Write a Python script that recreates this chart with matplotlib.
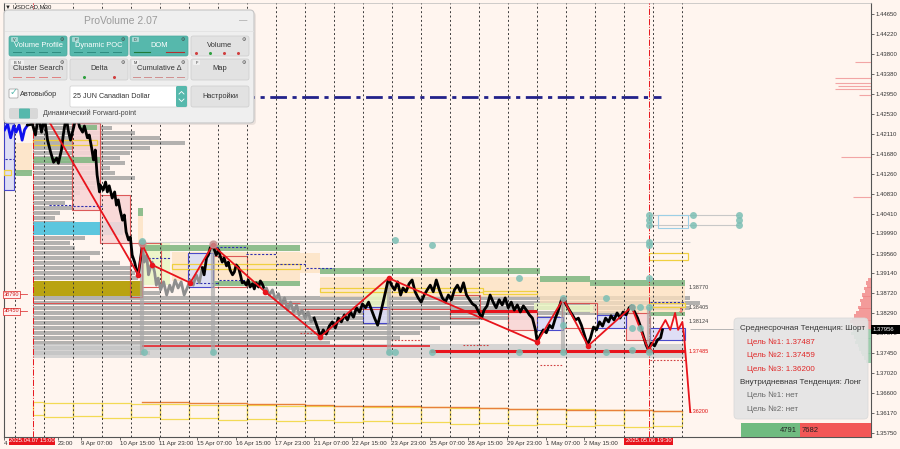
import matplotlib
matplotlib.use("Agg")
import matplotlib.pyplot as plt
from matplotlib.patches import Rectangle, FancyBboxPatch

plt.rcParams["font.family"] = ["Liberation Sans", "DejaVu Sans"]

# ---------------------------------------------------------------- data
x_tick_bars = [0, 89, 128, 192, 256, 320, 384, 448, 512, 576, 640, 704, 768, 832, 896, 960]
x_tick_labels = ["4", "23:00", "9 Apr 07:00", "10 Apr 15:00", "11 Apr 23:00",
                 "15 Apr 07:00", "16 Apr 15:00", "17 Apr 23:00", "21 Apr 07:00", "22 Apr 15:00",
                 "23 Apr 23:00", "25 Apr 07:00", "28 Apr 15:00", "29 Apr 23:00", "1 May 07:00",
                 "2 May 15:00"]
price_ticks = [1.44650, 1.44220, 1.43800, 1.43380, 1.42950, 1.42530, 1.42110, 1.41680,
               1.41260, 1.40830, 1.40410, 1.39990, 1.39560, 1.39140, 1.38720, 1.38290,
               1.37870, 1.37450, 1.37020, 1.36600, 1.36170, 1.35750]
day_sep = [18, 66, 114, 162, 210, 258, 306, 354, 402, 450, 498, 546, 594, 642, 690, 738,
           786, 834, 882, 930, 978, 1026, 1074, 1122]
cross_bars = [48, 1066]
current_price = 1.37956

pathA_bar = [1, 6, 11, 16, 20, 25, 30, 34, 39]
pathA_price = [1.4219, 1.4231, 1.4202, 1.4227, 1.4214, 1.4229, 1.4197, 1.4219, 1.4229]
pathB_bar = [39, 47, 52, 57, 62, 67, 72, 77, 82, 87, 90, 95, 98, 103, 106, 110, 115, 120, 125,
             130, 133, 138, 141, 145, 148, 151, 154, 158, 159, 164, 168, 171, 174, 179, 183,
             186, 189, 192, 196, 199, 202, 206, 209, 212, 216, 219, 222, 226, 229]
pathB_price = [1.4229, 1.4231, 1.4208, 1.4250, 1.4214, 1.4245, 1.4197, 1.4172, 1.4150, 1.4159,
               1.4148, 1.4176, 1.4208, 1.4248, 1.4219, 1.4197, 1.4223, 1.4252, 1.4225, 1.4214,
               1.4227, 1.4202, 1.4208, 1.4180, 1.4155, 1.4176, 1.4123, 1.4087, 1.4102, 1.4091,
               1.4108, 1.4087, 1.4100, 1.4074, 1.4087, 1.4059, 1.4070, 1.4049, 1.4027, 1.4038,
               1.4002, 1.3985, 1.3991, 1.3953, 1.3938, 1.3921, 1.3911, 1.3947, 1.3974]
pathC_bar = [229, 232, 236, 239, 242, 245, 249, 252, 255, 259, 264, 269, 274, 278, 283, 288,
             293, 298, 303, 308, 313, 318, 323, 328]
pathC_price = [1.3974, 1.3938, 1.3953, 1.3911, 1.3926, 1.3938, 1.3917, 1.3889, 1.3904, 1.3879,
               1.3896, 1.3868, 1.3889, 1.3875, 1.3900, 1.3883, 1.3896, 1.3868, 1.3883, 1.3900,
               1.3889, 1.3911, 1.3894, 1.3926]
pathD_bar = [328, 331, 335, 338, 341, 345, 348, 351, 355, 358, 361, 364, 368, 371, 374, 378,
             381, 384, 388, 391, 394, 397, 401, 404, 407, 411, 414, 417, 421, 424, 427, 431]
pathD_price = [1.3926, 1.3911, 1.3947, 1.3953, 1.3968, 1.3974, 1.3964, 1.3953, 1.3964, 1.3949,
               1.3938, 1.3947, 1.3930, 1.3938, 1.3921, 1.3911, 1.3917, 1.3932, 1.3926, 1.3911,
               1.3894, 1.3896, 1.3889, 1.3900, 1.3885, 1.3892, 1.3881, 1.3894, 1.3885, 1.3898,
               1.3892, 1.3879]
pathE_bar = [431, 434, 439, 444, 449, 454, 459, 464, 469, 474, 479, 484, 488, 493, 498, 503,
             508, 513]
pathE_price = [1.3879, 1.3883, 1.3868, 1.3879, 1.3858, 1.3871, 1.3847, 1.3862, 1.3836, 1.3853,
               1.3832, 1.3847, 1.3826, 1.3836, 1.3819, 1.3832, 1.3811, 1.3819]
pathF_bar = [513, 520, 523, 528, 533, 538, 543, 548, 553, 558, 563, 568, 573, 578, 583, 588,
             593, 598, 603, 608, 613, 618, 621, 626, 631, 636, 641, 646, 651, 656, 660, 665,
             670, 675, 680, 685, 690, 695, 700, 705, 710, 715, 720, 725, 730, 735, 740, 745,
             750, 755, 760, 765, 770, 775, 780, 785, 790, 794, 799, 804, 809, 814, 819, 824,
             829, 834, 839, 844, 849, 854, 859, 864, 869, 874, 879, 882, 887, 892, 897, 902,
             907, 912, 917, 922, 925, 930, 935, 940, 945, 950, 955, 960, 965, 970, 975, 980,
             985, 990, 995, 1000, 1004, 1009, 1014, 1019, 1024, 1029, 1034, 1038, 1043, 1048,
             1052, 1057, 1062, 1066, 1071, 1076, 1081, 1086, 1089]
pathF_price = [1.3819, 1.3794, 1.3779, 1.3794, 1.3785, 1.3802, 1.3811, 1.3798, 1.3819, 1.3811,
               1.3826, 1.3815, 1.3832, 1.3821, 1.3841, 1.3832, 1.3849, 1.3841, 1.3853, 1.3836,
               1.3819, 1.3804, 1.3819, 1.3847, 1.3875, 1.3904, 1.3889, 1.3879, 1.3896, 1.3868,
               1.3883, 1.3875, 1.3892, 1.3900, 1.3875, 1.3862, 1.3853, 1.3868, 1.3879, 1.3889,
               1.3875, 1.3900, 1.3879, 1.3862, 1.3853, 1.3868, 1.3858, 1.3879, 1.3889, 1.3875,
               1.3894, 1.3868, 1.3858, 1.3849, 1.3845, 1.3832, 1.3819, 1.3836, 1.3845, 1.3868,
               1.3853, 1.3841, 1.3858, 1.3847, 1.3862, 1.3841, 1.3853, 1.3836, 1.3847, 1.3832,
               1.3845, 1.3836, 1.3826, 1.3819, 1.3794, 1.3768, 1.3783, 1.3794, 1.3788, 1.3804,
               1.3798, 1.3819, 1.3836, 1.3858, 1.3860, 1.3847, 1.3836, 1.3826, 1.3815, 1.3819,
               1.3804, 1.3783, 1.3762, 1.3777, 1.3800, 1.3794, 1.3811, 1.3802, 1.3819, 1.3811,
               1.3824, 1.3815, 1.3830, 1.3819, 1.3832, 1.3826, 1.3841, 1.3845, 1.3832, 1.3819,
               1.3804, 1.3783, 1.3762, 1.3751, 1.3766, 1.3760, 1.3773, 1.3777, 1.3794]

zz_bar = [54, 222, 229, 245, 308, 345, 432, 523, 636, 882, 925, 966, 1038, 1066]
zz_price = [1.4282, 1.3911, 1.3974, 1.3932, 1.3894, 1.3974, 1.3875, 1.3779, 1.3904, 1.3768,
            1.3860, 1.3760, 1.3843, 1.3751]
fc_bar = [1066, 1094, 1102, 1110, 1115, 1122, 1125, 1135]
fc_price = [1.3751, 1.3815, 1.3794, 1.3830, 1.3794, 1.3811, 1.3779, 1.3620]

vp_price = [1.42334, 1.42228, 1.42122, 1.42016, 1.41910, 1.41804, 1.41697, 1.41591, 1.41485,
            1.41379, 1.41273, 1.41166, 1.41060, 1.40954, 1.40848, 1.40742, 1.40635, 1.40529,
            1.40423, 1.40317, 1.40211, 1.40104, 1.39998, 1.39892, 1.39786, 1.39680, 1.39573,
            1.39467, 1.39361, 1.39255, 1.39149, 1.39042, 1.38936, 1.38830, 1.38724, 1.38618,
            1.38511, 1.38405, 1.38299, 1.38193, 1.38087, 1.37980, 1.37874, 1.37768, 1.37662,
            1.37556, 1.37449]
vp_len = [110, 130, 168, 210, 251, 193, 160, 144, 152, 127, 135, 168, 110, 102, 77, 69, 53, 94,
          44, 36, 69, 110, 119, 86, 61, 69, 110, 94, 144, 160, 168, 173, 180, 180, 210, 1086,
          1103, 1086, 1003, 871, 739, 673, 640, 607, 491, 276, 193]
vp_start = 48

rp_price = [1.39000, 1.38936, 1.38872, 1.38809, 1.38745, 1.38681, 1.38618, 1.38554, 1.38490,
            1.38426, 1.38363, 1.38299, 1.38235, 1.38171, 1.38108, 1.38044, 1.37980]
rp_len = [5, 8, 7, 12, 10, 15, 13, 18, 17, 21, 20, 25, 28, 31, 35, 30, 20]
gp_price = [1.37917, 1.37853, 1.37789, 1.37726, 1.37662, 1.37598, 1.37534, 1.37470, 1.37407,
            1.37343, 1.37279]
gp_len = [30, 33, 28, 25, 26, 21, 20, 17, 15, 12, 8]
rl_price = [1.43630, 1.43290, 1.43184, 1.43120, 1.43057, 1.42929, 1.41612, 1.40762]
rl_len = [26, 60, 60, 55, 60, 20, 50, 30]

green_b0 = [229, 523, 887, 970, 48, 19, 126, 222, 1066, 346]
green_b1 = [490, 887, 970, 1127, 159, 47, 154, 230, 1127, 490]
green_lo = [1.39613, 1.39128, 1.38957, 1.38872, 1.41485, 1.41209, 1.42186, 1.40359, 1.38235, 1.38872]
green_hi = [1.39743, 1.39255, 1.39085, 1.39000, 1.41612, 1.41336, 1.42292, 1.40529, 1.38320, 1.38979]

peach_b0 = [19, 222, 278, 490, 523, 887, 970]
peach_b1 = [47, 230, 490, 523, 887, 970, 1127]
peach_lo = [1.41294, 1.39743, 1.38979, 1.39149, 1.38639, 1.38511, 1.38299]
peach_hi = [1.41910, 1.40359, 1.39595, 1.39573, 1.39064, 1.38957, 1.38872]

lgreen_b0 = [230, 308, 594, 876, 925]
lgreen_b1 = [275, 346, 636, 925, 975]
lgreen_lo = [1.38894, 1.38851, 1.38426, 1.38363, 1.38320]
lgreen_hi = [1.39786, 1.39573, 1.38788, 1.38511, 1.38469]

red_b0 = [113, 159, 209, 229, 346, 738, 834, 923, 1028]
red_b1 = [159, 209, 229, 259, 402, 788, 882, 981, 1069]
red_lo = [1.40487, 1.39786, 1.38639, 1.38851, 1.38851, 1.38193, 1.37938, 1.37980, 1.37726]
red_hi = [1.42334, 1.40805, 1.39786, 1.39786, 1.39510, 1.38681, 1.38320, 1.38511, 1.38299]
red_fill = [True, True, False, False, False, False, True, False, True]

blue_b0 = [0, 305, 594, 882, 981, 1069]
blue_b1 = [17, 346, 636, 925, 1028, 1127]
blue_lo = [1.40911, 1.38851, 1.38087, 1.37938, 1.37980, 1.37726]
blue_hi = [1.42334, 1.39573, 1.38426, 1.38214, 1.38257, 1.37980]

yel_b0 = [278, 523, 793, 48, 0, 1067, 1067]
yel_b1 = [490, 793, 882, 154, 11, 1132, 1127]
yel_lo = [1.39234, 1.38745, 1.38703, 1.41867, 1.41230, 1.39425, 1.38426]
yel_hi = [1.39340, 1.38830, 1.38766, 1.41973, 1.41336, 1.39573, 1.38511]

poc_b0 = [2, 75, 114, 231, 350, 305, 355, 400, 450, 500, 1069]
poc_b1 = [16, 114, 162, 275, 400, 355, 400, 450, 500, 546, 1127]
poc_price = [1.41570, 1.40593, 1.40572, 1.39467, 1.39700, 1.38936, 1.39004, 1.39560, 1.39340,
             1.39255, 1.38532]

rdot_b0 = [490, 640, 887, 1069, 760]
rdot_b1 = [535, 690, 925, 1127, 800]
rdot_price = [1.37880, 1.37726, 1.37194, 1.37300, 1.37620]

box_edges = [48, 66, 114, 162, 210, 258, 306, 354, 402, 450, 498, 546, 594, 642, 690, 738,
             786, 834, 882, 930, 978, 1026, 1074, 1122]
box_top = [1.36409, 1.36387, 1.36387, 1.36387, 1.36366, 1.36366, 1.36345, 1.36345, 1.36345,
           1.36324, 1.36324, 1.36324, 1.36302, 1.36302, 1.36302, 1.36281, 1.36281, 1.36260,
           1.36260, 1.36260, 1.36239, 1.36239, 1.36217]
box_low = [1.36133, 1.36090, 1.36112, 1.36069, 1.36090, 1.36048, 1.36069, 1.36027, 1.36048,
           1.36006, 1.36027, 1.35985, 1.36006, 1.35963, 1.35985, 1.35942, 1.35963, 1.35921,
           1.35942, 1.35900, 1.35921, 1.35879, 1.35900]
orange_edges = [229, 258, 306, 354, 402, 450, 498, 546, 594, 642, 690, 738, 786, 834, 882,
                930, 978, 1026, 1074, 1122]
orange_price = [1.36398, 1.36398, 1.36377, 1.36377, 1.36366, 1.36356, 1.36345, 1.36334,
                1.36324, 1.36313, 1.36302, 1.36292, 1.36281, 1.36270, 1.36260, 1.36249,
                1.36239, 1.36228, 1.36217]

teal_bar = [229, 231, 345, 647, 708, 636, 647, 708, 851, 851, 925, 925, 925, 995, 995, 1039,
            1052, 1039, 1052, 1039, 1066, 1066, 1067, 1067, 1067, 1140, 1140, 1215, 1215,
            1215, 1067, 1067, 1067]
teal_price = [1.39828, 1.37470, 1.37470, 1.39850, 1.39743, 1.37470, 1.37470, 1.37470, 1.39042,
              1.37470, 1.38618, 1.38044, 1.37470, 1.38618, 1.37470, 1.38426, 1.38426, 1.37980,
              1.37980, 1.37513, 1.37470, 1.39743, 1.40381, 1.40274, 1.40168, 1.40381, 1.40168,
              1.40381, 1.40274, 1.40168, 1.39042, 1.38426, 1.39807]
stem_bar = [229, 345, 636, 925, 1066]
stem_top = [1.3979, 1.3974, 1.3904, 1.3860, 1.3843]

level_labels = ["1.38770", "1.38405", "1.38124", "1.37485", "1.36200"]
level_values = [1.38830, 1.38426, 1.38124, 1.37485, 1.36200]
level_colors = ["#404040", "#404040", "#404040", "#e01010", "#e01010"]

vol_buy, vol_sell = "4791", "7682"

# ---------------------------------------------------------------- figure
BG = "#fff5ef"
fig = plt.figure(figsize=(9.0, 4.49), dpi=100)
fig.patch.set_facecolor(BG)
ax = fig.add_axes([4 / 900, 12 / 449, 867 / 900, 434 / 449])
ax.set_facecolor(BG)
ax.set_xlim(0, 1434)
ax.set_ylim(1.35665, 1.44883)

RED = "#e8141c"
TEAL = "#56b8ac"


def rects(b0, b1, lo, hi, **kw):
    for a, b, c, d in zip(b0, b1, lo, hi):
        ax.add_patch(Rectangle((a, c), b - a, d - c, **kw))


# volume profile
ax.barh(vp_price, vp_len, left=vp_start, height=0.00098, color="#a0a0a0", alpha=0.8,
        lw=0, zorder=2)
ax.add_patch(Rectangle((48, 1.39956), 148, 0.00276, color="#5cc6de", lw=0, zorder=2.5))
ax.add_patch(Rectangle((48, 1.38660), 181, 0.00319, color="#b9a312", lw=0, zorder=2.5))
ax.add_patch(Rectangle((48, 1.37343), 1079, 0.00298, color="#cccccc", alpha=0.8, lw=0,
                       zorder=2.2))

# boxes / bands
rects(peach_b0, peach_b1, peach_lo, peach_hi, fc="#fde2c0", ec="none", alpha=0.75, zorder=2.6)
rects(lgreen_b0, lgreen_b1, lgreen_lo, lgreen_hi, fc="#eaf6c4", ec="none", alpha=0.85, zorder=2.7)
for a, b, c, d, f in zip(red_b0, red_b1, red_lo, red_hi, red_fill):
    ax.add_patch(Rectangle((a, c), b - a, d - c, fc="#f9d6d6" if f else "none",
                           ec="#d94a4a", lw=0.8, alpha=0.9, zorder=2.8))
rects(blue_b0, blue_b1, blue_lo, blue_hi, fc="#dcdcf6", ec="#3838c8", lw=0.8, alpha=0.9,
      zorder=2.8)
rects(yel_b0, yel_b1, yel_lo, yel_hi, fc="none", ec="#f0d040", lw=0.9, zorder=3)
rects(green_b0, green_b1, green_lo, green_hi, fc="#84b884", ec="none", alpha=0.9, zorder=3)
ax.add_patch(Rectangle((1082, 1.40104), 50, 0.00277, fc="none", ec="#9ccfe6", lw=0.8, zorder=3))

# horizontal levels
ax.hlines(1.42887, 229, 1086, colors="#22228a", linestyles=(0, (6, 2, 1.5, 2)), lw=2.0, zorder=3)
ax.hlines(1.39807, 229, 1135, colors="#d2d2d2", lw=0.8, zorder=2.9)
ax.hlines([1.40381, 1.40168], 1066, 1215, colors="#c8c8c8", lw=0.8, zorder=2.9)
ax.hlines(current_price, 1135, 1215, colors="#b5b5b5", lw=0.7, zorder=2.9)
ax.hlines(1.38511, 48, 490, colors="#e05050", lw=0.7, zorder=3)
ax.hlines(1.38380, 490, 738, colors="#e05050", lw=0.8, zorder=3)
ax.hlines(1.38340, 738, 882, colors=RED, lw=2.2, zorder=3)
ax.hlines(1.37598, 229, 705, colors=RED, lw=1.1, zorder=3.2)
ax.hlines(1.37487, 705, 1127, colors=RED, lw=2.2, zorder=3.2)
for a, b, p in zip(poc_b0, poc_b1, poc_price):
    ax.hlines(p, a, b, colors="#3030b0", linestyles=(0, (2, 1.5)), lw=0.8, zorder=3.1)
for a, b, p in zip(rdot_b0, rdot_b1, rdot_price):
    ax.hlines(p, a, b, colors="#d04040", linestyles=(0, (1.5, 1.5)), lw=0.8, zorder=3.1)

# bottom daily boxes
for i in range(len(box_top)):
    a, b = box_edges[i], box_edges[i + 1]
    ax.add_patch(Rectangle((a, box_low[i]), b - a, box_top[i] - box_low[i], fc="none",
                           ec="#f3da55", lw=0.9, zorder=3))
ax.step(orange_edges, orange_price + [orange_price[-1]], where="post", color="#e8803a",
        lw=1.0, zorder=3.2)

# grid / separators
ax.vlines(day_sep, 1.35665, 1.44883, colors="#3a3a3a", linestyles=(0, (2, 2.5)), lw=0.7,
          zorder=3.5)
ax.vlines(cross_bars, 1.35665, 1.44883, colors=RED, linestyles="-.", lw=0.7, zorder=3.5)

# grey stems
ax.vlines(stem_bar, 1.3741, stem_top, colors="#a8a8a8", lw=3, alpha=0.7, zorder=3.6)

# price
ax.plot(pathA_bar, pathA_price, color="#1010ee", lw=2.0, zorder=5)
for xs, ys, c in [(pathB_bar, pathB_price, "#000000"), (pathC_bar, pathC_price, "#8e8e8e"),
                  (pathD_bar, pathD_price, "#000000"), (pathE_bar, pathE_price, "#8e8e8e"),
                  (pathF_bar, pathF_price, "#000000")]:
    ax.plot(xs, ys, color=c, lw=2.0, zorder=5)

# zigzag
ax.plot(zz_bar, zz_price, color=RED, lw=1.3, zorder=6)
ax.plot(fc_bar, fc_price, color=RED, lw=1.3, zorder=6)
ax.plot(zz_bar[1:], zz_price[1:], "o", color=RED, ms=3, zorder=6.5)
ax.plot([229, 345], [1.3979, 1.3976], "o", color="#c49090", ms=5, alpha=0.8, zorder=6.6)
ax.text(1119, 1.3833, "⇩", color=RED, fontsize=5, ha="center", va="center", zorder=7)

# teal circles
ax.plot(teal_bar, teal_price, "o", color="#7cbfb5", ms=5, alpha=0.85, zorder=6.8, mec="none")

# right-side profile
ax.barh(rp_price, rp_len, left=[1434 - v for v in rp_len], height=0.00064, color="#f08585",
        alpha=0.8, lw=0, zorder=4)
ax.barh(gp_price, gp_len, left=[1434 - v for v in gp_len], height=0.00064, color="#8cc8a2",
        alpha=0.85, lw=0, zorder=4)
for p, l in zip(rl_price, rl_len):
    ax.hlines(p, 1434 - l, 1434, colors="#f2a5a5", lw=0.8, zorder=4)

# level labels
for t, v, c in zip(level_labels, level_values, level_colors):
    ax.text(1132, v, t, fontsize=4, color=c, va="center", ha="left", zorder=7)

# axes styling
ax.yaxis.tick_right()
ax.set_yticks(price_ticks)
ax.set_yticklabels([f"{v:.5f}" for v in price_ticks], fontsize=4.3, color="#222222")
ax.set_xticks(x_tick_bars)
ax.set_xticklabels(x_tick_labels, fontsize=4.4, color="#222222")
for lab in ax.get_xticklabels():
    lab.set_horizontalalignment("left")
ax.tick_params(axis="y", length=2, width=0.5, pad=1.5, colors="#333333")
ax.tick_params(axis="x", length=2, width=0.5, pad=1.0, colors="#333333")
for s in ["left", "bottom", "right"]:
    ax.spines[s].set_color("#555555")
    ax.spines[s].set_linewidth(0.8)
ax.spines["top"].set_color("#bbbbbb")
ax.spines["top"].set_linewidth(0.5)

# ---------------------------------------------------------------- UI overlay (pixels)
ui = fig.add_axes([0, 0, 1, 1], zorder=10)
ui.set_xlim(0, 900)
ui.set_ylim(449, 0)
ui.axis("off")
ui.patch.set_alpha(0)


def rbox(x, y, w, h, fc, ec="none", r=2.0, lw=0.6, z=1, alpha=1.0):
    ui.add_patch(FancyBboxPatch((x, y), w, h, boxstyle=f"round,pad=0,rounding_size={r}",
                                fc=fc, ec=ec, lw=lw, zorder=z, alpha=alpha))


ui.text(5, 7, "▼ USDCAD,M30", fontsize=4.3, color="#222222", va="center", ha="left")

# panel
rbox(6, 12, 250, 113, "#000000", r=4, alpha=0.08, z=1)
rbox(4, 10, 250, 113, "#efefef", ec="#c5c5c5", r=4, lw=0.8, z=2)
ui.plot([5, 253], [31, 31], color="#e2e2e2", lw=0.6, zorder=3)
ui.text(121, 21, "ProVolume 2.07", fontsize=7.5, color="#9b9b9b", ha="center", va="center",
        zorder=4)
ui.text(243, 21, "—", fontsize=6, color="#8a8a8a", ha="center", va="center", zorder=4)

cols = [9, 70, 130, 191]
row1 = [("Volume Profile", True, "V"), ("Dynamic POC", True, "P"), ("DOM", True, "D"),
        ("Volume", False, "")]
row2 = [("Cluster Search", False, "B N"), ("Delta", False, ""), ("Cumulative Δ", False, "M"),
        ("Map", False, "F")]
for row, y0, h in [(row1, 36, 20), (row2, 59, 21)]:
    for (label, active, tag), x0 in zip(row, cols):
        fc = TEAL if active else "#e2e2e2"
        rbox(x0, y0, 58, h, fc, ec="#4aa89c" if active else "#cccccc", r=2, lw=0.5, z=4)
        ui.text(x0 + 29, y0 + 9.5, label, fontsize=5.4,
                color="white" if active else "#333333", ha="center", va="center", zorder=5)
        if tag:
            tw = 4 + 3 * len(tag)
            rbox(x0 + 2, y0 + 1, tw, 5, "#ffffff", r=1, z=5, alpha=0.45)
            ui.text(x0 + 2 + tw / 2, y0 + 3.6, tag, fontsize=2.8, color="#333333",
                    ha="center", va="center", zorder=6)
        ui.text(x0 + 53, y0 + 3.5, "⚙", fontsize=3.6, color="#444444", ha="center",
                va="center", zorder=6)
# indicators
for x0 in [9, 70]:
    for k in range(4):
        ui.plot([x0 + 4 + k * 13, x0 + 12 + k * 13], [52, 52], color="#2e8c80", lw=0.7, zorder=6)
ui.plot([134, 150], [52, 52], color="#1f7a3a", lw=0.8, zorder=6)
ui.plot([166, 184], [52, 52], color="#b03030", lw=0.8, zorder=6)
for k, c in enumerate(["#d04040", "#30a040", "#d04040", "#d04040"]):
    ui.plot(196 + k * 14, 52.5, "o", color=c, ms=1.2, zorder=6)
for k in range(4):
    ui.plot([13 + k * 13, 21 + k * 13], [76.5, 76.5], color="#e08080", lw=0.7, zorder=6)
ui.plot(84, 76.5, "o", color="#30a040", ms=1.2, zorder=6)
ui.plot(114, 76.5, "o", color="#d04040", ms=1.2, zorder=6)
for k in range(5):
    ui.plot([133 + k * 11, 140 + k * 11], [76.5, 76.5], color="#d09090", lw=0.7, zorder=6)

# row 3
rbox(9, 89, 9, 9, "#ffffff", ec="#9a9a9a", r=1, lw=0.5, z=4)
ui.text(13.7, 92.5, "✓", fontsize=7, color=TEAL, ha="center", va="center", zorder=5)
ui.text(20, 94.5, "Автовыбор", fontsize=5.2, color="#333333", va="center", zorder=5)
rbox(70, 86, 117, 21, "#ffffff", ec="#cfcfcf", r=1.5, lw=0.5, z=4)
ui.text(73, 96.5, "25 JUN Canadian Dollar", fontsize=5.1, color="#333333", va="center",
        zorder=5)
rbox(176, 86, 11, 21, TEAL, r=1.5, z=5)
ui.plot([179, 181.5, 184], [94, 91.5, 94], color="white", lw=0.6, zorder=6)
ui.plot([179, 181.5, 184], [99, 101.5, 99], color="white", lw=0.6, zorder=6)
rbox(191, 86, 58, 21, "#e2e2e2", ec="#cccccc", r=2, lw=0.5, z=4)
ui.text(220, 96.5, "Настройки", fontsize=5.3, color="#333333", ha="center", va="center",
        zorder=5)
# row 4
rbox(9, 108, 29, 11, "#d8d8d8", r=2, z=4)
rbox(19, 108.5, 11, 10, TEAL, r=1, z=5)
ui.text(43, 113.5, "Динамический Forward-point", fontsize=5.0, color="#444444", va="center",
        zorder=5)

# left price tags
for yy, t in [(294, "38790"), (311, "38450")]:
    ui.add_patch(Rectangle((3, yy - 3.5), 17, 7, fc="#fff0f0", ec="#e04040", lw=0.6, zorder=5))
    ui.text(11.5, yy, t, fontsize=4, color="#d02020", ha="center", va="center", zorder=6)
    ui.plot([20, 27], [yy, yy], color="#e04040", lw=0.6, zorder=5)

# info box
rbox(734, 318, 134, 101, "#e4e4e4", ec="#d8d8d8", r=4, lw=0.6, z=4, alpha=0.9)
info = [("Среднесрочная Тенденция: Шорт", 740, 329, "#333333"),
        ("Цель №1: 1.37487", 747, 342, "#e02828"),
        ("Цель №2: 1.37459", 747, 355.5, "#e02828"),
        ("Цель №3: 1.36200", 747, 369, "#e02828"),
        ("Внутридневная Тенденция: Лонг", 740, 382, "#333333"),
        ("Цель №1: нет", 747, 395.5, "#666666"),
        ("Цель №2: нет", 747, 409, "#666666")]
for t, x, y, c in info:
    ui.text(x, y, t, fontsize=5.8, color=c, va="center", ha="left", zorder=5)

# volume bar
ui.add_patch(Rectangle((741, 423), 59, 14, fc="#70bb80", lw=0, zorder=5))
ui.add_patch(Rectangle((800, 423), 71, 14, fc="#f25757", lw=0, zorder=5))
ui.text(797, 430, vol_buy, fontsize=5.5, color="#222222", ha="right", va="center", zorder=6)
ui.text(802, 430, vol_sell, fontsize=5.5, color="#222222", ha="left", va="center", zorder=6)

# current price tag
ui.add_patch(Rectangle((871, 325), 29, 9, fc="#000000", lw=0, zorder=6))
ui.text(873, 329.6, f"{current_price:.5f}", fontsize=4.3, color="white", va="center",
        ha="left", zorder=7)

# crosshair date tags
for x0, w, t in [(9, 46, "2025.04.07 15:00"), (624, 49, "2025.05.06 19:30")]:
    ui.add_patch(Rectangle((x0, 437.5), w, 7, fc=RED, lw=0, zorder=6))
    ui.text(x0 + w / 2, 441, t, fontsize=4.2, color="white", ha="center", va="center", zorder=7)

fig.savefig("out.png", dpi=100, facecolor=BG)
